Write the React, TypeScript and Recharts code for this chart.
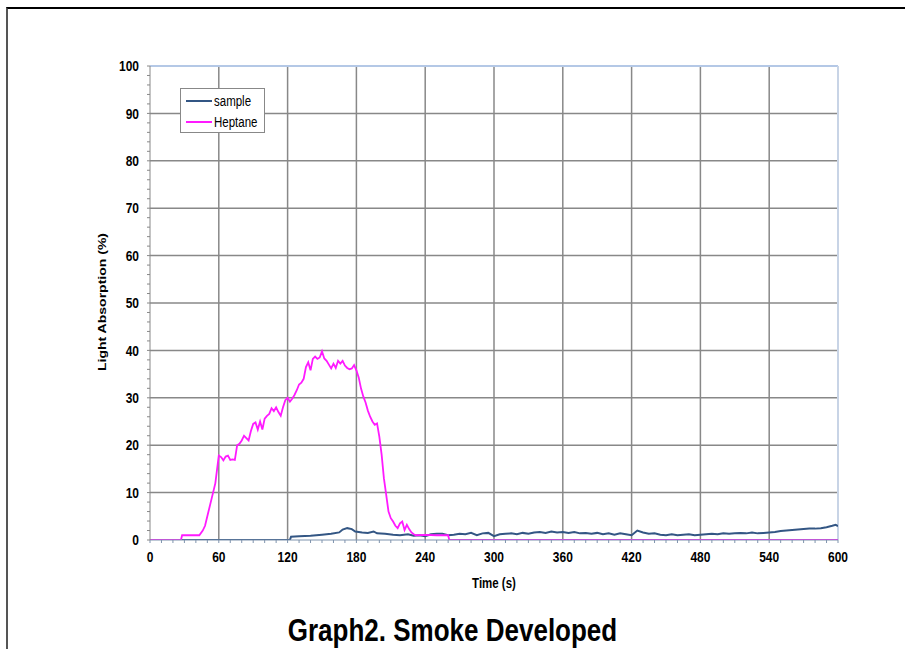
import { LineChart, Line, XAxis, YAxis, CartesianGrid, ReferenceLine, Legend, Label } from 'recharts'

const heptaneTime = [
  0, 27, 28, 43, 46, 48, 51, 54, 57, 60, 62, 64, 66, 68, 70, 72, 74, 76, 78, 80,
  82, 84, 86, 88, 90, 92, 94, 96, 98, 100, 102, 104, 106, 108, 110, 112, 114, 116, 118, 120,
  122, 124, 126, 128, 130, 132, 134, 136, 138, 140, 142, 144, 146, 148, 150, 152, 154, 156, 158, 160,
  162, 164, 166, 168, 170, 172, 174, 176, 178, 180, 182, 184, 186, 188, 190, 192, 194, 196, 198, 200,
  202, 204, 206, 208, 210, 212, 214, 216, 218, 220, 222, 224, 226, 228, 230, 232, 240, 250, 260, 261, 600,
]
const heptaneAbs = [
  0, 0, 1, 1, 2, 3, 6, 9, 12, 17.8, 17.5, 16.8, 17.6, 17.8, 16.9, 17, 16.9, 20, 20.3, 21,
  22, 21.5, 21, 23, 24.5, 24.8, 23.3, 25, 23.3, 25.6, 26.2, 26.6, 27.8, 27.2, 28, 27, 26.2, 28, 29.5, 30,
  29.2, 29.8, 30.6, 31.6, 32.8, 33.2, 34, 36.5, 37.5, 35.8, 38.2, 38.7, 38.2, 38.5, 39.8, 38.3, 37.8, 37, 36.2, 37.2,
  36.3, 37.8, 37.2, 37.8, 36.8, 36.3, 36, 36.2, 36.9, 35.8, 34.3, 32, 30.3, 29, 27.3, 26, 25, 24.3, 24.6, 21.8,
  18, 13, 9.5, 6, 4.6, 3.9, 3, 2.5, 3.5, 3.9, 2.1, 3.2, 2.3, 1.6, 1.2, 1, 1.1, 1, 1, 0, 0,
]

const sampleTime = [
  0, 122, 123, 130, 140, 150, 158, 165, 168, 172, 176, 179, 185, 190, 195, 198, 205, 212, 218, 225,
  230, 235, 240, 245, 250, 255, 260, 265, 270, 275, 280, 285, 290, 295, 300, 305, 310, 315, 320, 325,
  330, 335, 340, 345, 350, 355, 360, 365, 370, 375, 380, 385, 390, 395, 400, 405, 410, 415, 420, 425,
  430, 435, 440, 445, 450, 455, 460, 465, 470, 475, 480, 485, 490, 495, 500, 505, 510, 515, 520, 525,
  530, 535, 540, 545, 550, 555, 560, 565, 570, 575, 580, 585, 590, 595, 598, 600,
]
const sampleAbs = [
  0, 0, 0.7, 0.8, 0.9, 1.1, 1.3, 1.6, 2.2, 2.5, 2.3, 1.8, 1.6, 1.5, 1.8, 1.4, 1.3, 1.1, 1, 1.2,
  0.9, 1, 0.8, 1.2, 1.3, 1.3, 1, 1.1, 1.3, 1.2, 1.5, 1, 1.4, 1.5, 0.8, 1.2, 1.3, 1.4, 1.2, 1.5,
  1.3, 1.6, 1.7, 1.5, 1.8, 1.6, 1.7, 1.5, 1.7, 1.4, 1.5, 1.3, 1.5, 1.2, 1.4, 1.1, 1.4, 1.2, 1, 2,
  1.6, 1.3, 1.4, 1.1, 1, 1.2, 1, 1.1, 1.2, 1, 1.1, 1.2, 1.3, 1.2, 1.4, 1.3, 1.4, 1.5, 1.4, 1.6,
  1.4, 1.5, 1.6, 1.7, 1.9, 2, 2.1, 2.2, 2.3, 2.4, 2.4, 2.5, 2.7, 3, 3.2, 2.9,
]

const timeTicks = Array.from({ length: 61 }, (_, i) => i * 10)
const absTicks = Array.from({ length: 51 }, (_, i) => i * 2)
const gridTimes = [60, 120, 180, 240, 300, 360, 420, 480, 540]
const gridAbs = [10, 20, 30, 40, 50, 60, 70, 80, 90]

const heptaneData = heptaneTime.map((t, i) => ({ t, v: heptaneAbs[i] }))
const sampleData = sampleTime.map((t, i) => ({ t, v: sampleAbs[i] }))

const font = '"Liberation Sans", Arial, sans-serif'
const SAMPLE = '#335684'
const HEPTANE = '#ff1aff'
// the source picture is stretched vertically, so text is scaled to match
const STRETCH = 1.22

function XTick({ x, y, payload }: any) {
  const v = payload.value as number
  if (v % 60 !== 0) return null
  return (
    <g transform={`translate(${x},${y}) scale(1,${STRETCH})`}>
      <text x={0} y={0} dy="0.71em" textAnchor="middle" fontFamily={font} fontSize={12} fontWeight={700} fill="#000">{v}</text>
    </g>
  )
}

function YTick({ x, y, payload }: any) {
  const v = payload.value as number
  if (v % 10 !== 0) return null
  return (
    <g transform={`translate(${x},${y}) scale(1,${STRETCH})`}>
      <text x={0} y={0} dy="0.355em" textAnchor="end" fontFamily={font} fontSize={12} fontWeight={700} fill="#000">{v}</text>
    </g>
  )
}

function LegendBox() {
  const row = (color: string, name: string) => (
    <div style={{ display: 'flex', alignItems: 'center', height: 21 }}>
      <div style={{ width: 26, height: 0, borderTop: `2px solid ${color}`, marginRight: 2 }} />
      <span style={{ display: 'inline-block', transform: `scaleY(${STRETCH})` }}>{name}</span>
    </div>
  )
  return (
    <div style={{
      width: 78, height: 42, border: '1px solid #888', background: '#fff',
      fontFamily: font, fontSize: 11.5, fontWeight: 400, color: '#000', padding: '1px 0 0 5px', boxSizing: 'content-box',
    }}>
      {row(SAMPLE, 'sample')}
      {row(HEPTANE, 'Heptane')}
    </div>
  )
}

export default function App() {
  return (
    <div style={{ position: 'fixed', left: 0, top: 0, width: 905, height: 649, background: '#fff', overflow: 'hidden' }}>
      <div style={{ position: 'absolute', left: 6, top: 7, width: 899, height: 642, borderTop: '2px solid #000', borderLeft: '2px solid #555' }} />
      <div style={{ position: 'absolute', left: 0, top: 0 }}>
        <LineChart width={905} height={600} margin={{ top: 66, right: 67, bottom: 30, left: 100 }}>
          <CartesianGrid horizontal vertical horizontalValues={gridAbs} verticalValues={gridTimes} stroke="#888" strokeWidth={1.5} />
          <XAxis
            type="number" dataKey="t" domain={[0, 600]} ticks={timeTicks} allowDataOverflow
            height={30} tickSize={3} tickMargin={9} interval={0}
            stroke="#7f93ad" tick={<XTick />}
          >
            <Label
              content={({ viewBox }: any) => (
                <g transform={`translate(${viewBox.x + viewBox.width / 2},583) scale(1,${STRETCH})`}>
                  <text x={0} y={0} dy="0.355em" textAnchor="middle"
                    fontFamily={font} fontSize={11.5} fontWeight={700} fill="#000">Time (s)</text>
                </g>
              )}
            />
          </XAxis>
          <YAxis
            type="number" domain={[0, 100]} ticks={absTicks} allowDataOverflow interval={0}
            width={50} tickSize={3} tickMargin={8}
            stroke="#888" tick={<YTick />}
          >
            <Label
              content={() => (
                <g transform={`translate(102,302) rotate(-90) scale(${STRETCH},1)`}>
                  <text x={0} y={0} dy="0.355em" textAnchor="middle"
                    fontFamily={font} fontSize={11.5} fontWeight={700} fill="#000">Light Absorption (%)</text>
                </g>
              )}
            />
          </YAxis>
          <ReferenceLine y={100} stroke="#b4c8e6" strokeWidth={2} />
          <ReferenceLine x={600} stroke="#c8d4e6" strokeWidth={2} />
          <Legend
            layout="horizontal" verticalAlign="middle" align="center"
            wrapperStyle={{ left: 180, top: 88, width: 84 }}
            content={() => <LegendBox />}
          />
          <Line data={sampleData} dataKey="v" name="sample" type="linear" stroke={SAMPLE} strokeWidth={2} dot={false} isAnimationActive={false} />
          <Line data={heptaneData} dataKey="v" name="Heptane" type="linear" stroke={HEPTANE} strokeWidth={1.8} dot={false} isAnimationActive={false} />
        </LineChart>
      </div>
      <div style={{
        position: 'absolute', left: 0, width: 905, top: 615, textAlign: 'center', fontFamily: font,
        fontSize: 26, fontWeight: 700, lineHeight: '30px', transform: `scaleY(${STRETCH})`,
      }}>
        Graph2. Smoke Developed
      </div>
    </div>
  )
}
